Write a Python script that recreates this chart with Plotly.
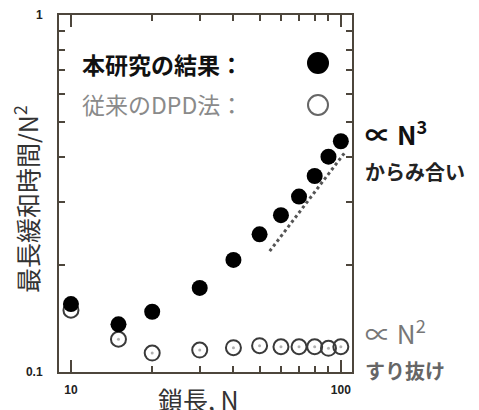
import math
import plotly.graph_objects as go

# ---- data ----
chain_length = [10, 15, 20, 30, 40, 50, 60, 70, 80, 90, 100]
this_study = [0.155, 0.136, 0.1475, 0.172, 0.206, 0.243, 0.275, 0.31, 0.354, 0.401, 0.443]
conventional_dpd = [0.149, 0.1235, 0.113, 0.1152, 0.117, 0.1185, 0.1177, 0.1177, 0.1177, 0.1165, 0.1177]
guide_N = [54.5, 104]
guide_y = [0.218, 0.414]
x_tick_vals = [10, 100]
x_tick_text = ["10", "100"]
x_minor_vals = [20, 30, 40, 50, 60, 70, 80, 90]
y_tick_vals = [0.1, 1]
y_tick_text = ["0.1", "1"]
y_minor_vals = [0.2, 0.3, 0.4, 0.5, 0.6, 0.7, 0.8, 0.9]

W, H = 479, 410
L, R, T, B = 59, 352, 15, 372
CJK = "Noto Sans CJK JP"
AXC = "#4d463c"


def px(xp):
    return (xp - L) / (R - L)


def py(yp):
    return (B - yp) / (B - T)


fig = go.Figure()

fig.add_trace(go.Scatter(
    x=guide_N, y=guide_y, mode="lines",
    line=dict(color="#555555", width=3, dash="dot"),
    showlegend=False, hoverinfo="skip"))

fig.add_trace(go.Scatter(
    x=chain_length, y=conventional_dpd, mode="markers",
    marker=dict(symbol="circle-open", size=15, color="#3a3a3a",
                line=dict(width=2, color="#3a3a3a")),
    name="従来のDPD法", showlegend=False))
fig.add_trace(go.Scatter(
    x=chain_length, y=conventional_dpd, mode="markers",
    marker=dict(symbol="circle", size=3, color="#b0b0b0"),
    showlegend=False, hoverinfo="skip"))

fig.add_trace(go.Scatter(
    x=chain_length, y=this_study, mode="markers",
    marker=dict(symbol="circle", size=16, color="#000000"),
    name="本研究の結果", showlegend=False))

tickfont = dict(family="Liberation Sans", size=12, color="#222222", weight="bold")

fig.update_xaxes(
    type="log", range=[math.log10(9.03), math.log10(110)],
    tickmode="array", tickvals=x_tick_vals, ticktext=x_tick_text,
    ticks="inside", ticklen=12, tickwidth=1.5, tickcolor=AXC,
    minor=dict(tickmode="array", tickvals=x_minor_vals, ticks="inside",
               ticklen=6, tickwidth=1.5, tickcolor=AXC, showgrid=False),
    showline=True, linecolor=AXC, linewidth=2, mirror="ticks",
    showgrid=False, zeroline=False, tickfont=tickfont, ticklabelstandoff=6)

fig.update_yaxes(
    type="log", range=[-1, 0],
    tickmode="array", tickvals=y_tick_vals, ticktext=y_tick_text,
    ticks="inside", ticklen=8, tickwidth=1.5, tickcolor=AXC,
    minor=dict(tickmode="array", tickvals=y_minor_vals, ticks="inside",
               ticklen=6, tickwidth=1.5, tickcolor=AXC, showgrid=False),
    showline=True, linecolor=AXC, linewidth=2, mirror="ticks",
    showgrid=False, zeroline=False, tickfont=tickfont, ticklabelstandoff=12)

annotations = [
    dict(text="本研究の結果：", x=px(80), y=py(64), xanchor="left", yanchor="middle",
         font=dict(family=CJK, size=23, color="#111111", weight="bold")),
    dict(text="従来のDPD法：", x=px(80), y=py(104), xanchor="left", yanchor="middle",
         font=dict(family=CJK, size=23, color="#8a8a8a")),
    dict(text="∝ N<sup>3</sup>", x=px(363), y=py(132), xanchor="left", yanchor="middle",
         font=dict(family=CJK, size=26, color="#111111", weight="bold")),
    dict(text="からみ合い", x=px(363), y=py(171), xanchor="left", yanchor="middle",
         font=dict(family=CJK, size=20, color="#222222", weight="bold")),
    dict(text="∝ N<sup>2</sup>", x=px(363), y=py(331), xanchor="left", yanchor="middle",
         font=dict(family=CJK, size=26, color="#777777")),
    dict(text="すり抜け", x=px(363), y=py(370), xanchor="left", yanchor="middle",
         font=dict(family=CJK, size=20, color="#666666", weight="bold")),
    dict(text="最長緩和時間/N<sup>2</sup>", x=px(26), y=py(199), xanchor="center",
         yanchor="middle", textangle=-90,
         font=dict(family=CJK, size=25, color="#333333")),
    dict(text="鎖長, N", x=px(198), y=py(399), xanchor="center", yanchor="middle",
         font=dict(family=CJK, size=25, color="#333333")),
]
for a in annotations:
    a.update(xref="paper", yref="paper", showarrow=False)

shapes = [
    dict(type="circle", xref="paper", yref="paper", xsizemode="pixel", ysizemode="pixel",
         xanchor=px(318), yanchor=py(63), x0=-11, x1=11, y0=-11, y1=11,
         fillcolor="#000000", line=dict(width=0)),
    dict(type="circle", xref="paper", yref="paper", xsizemode="pixel", ysizemode="pixel",
         xanchor=px(318), yanchor=py(105), x0=-10, x1=10, y0=-10, y1=10,
         fillcolor="rgba(0,0,0,0)", line=dict(width=2, color="#666666")),
]

fig.update_layout(
    width=W, height=H,
    margin=dict(l=L, r=W - R, t=T, b=H - B, autoexpand=False),
    paper_bgcolor="white", plot_bgcolor="white",
    annotations=annotations, shapes=shapes, showlegend=False)

fig.write_html("out.html", config={"displayModeBar": False},
               post_script="document.body.style.margin='0';document.body.style.overflow='hidden';")
